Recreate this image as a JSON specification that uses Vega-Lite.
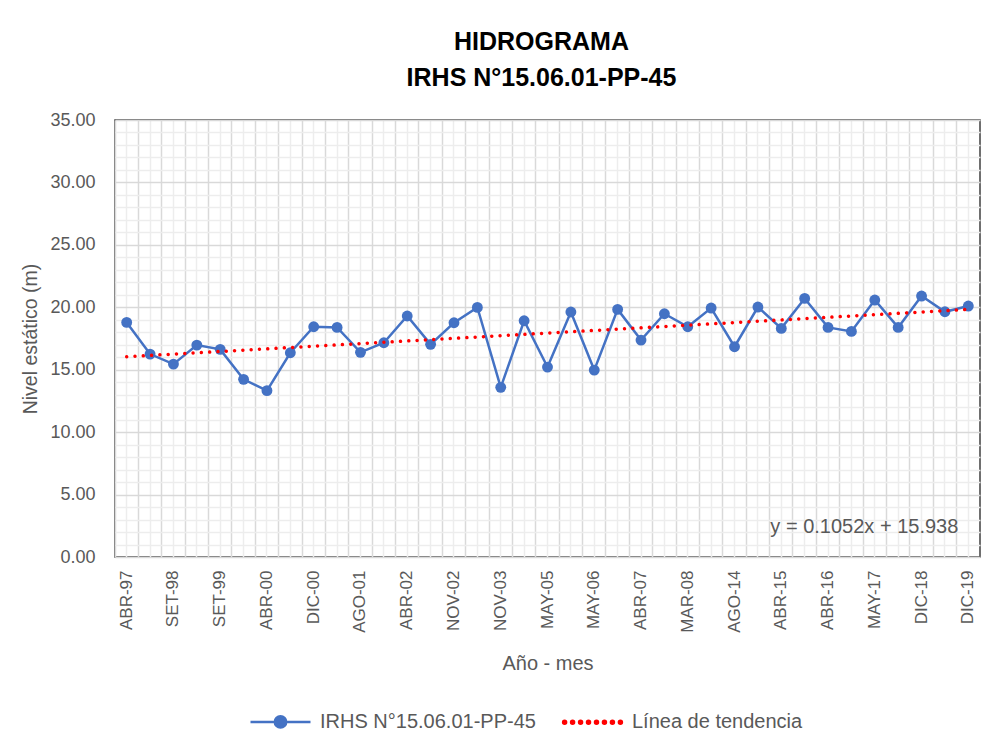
{
  "$schema": "https://vega.github.io/schema/vega-lite/v6.json",
  "width": 865,
  "height": 437,
  "autosize": "none",
  "padding": {"left": 115, "top": 120, "right": 27, "bottom": 195},
  "background": "white",
  "config": {
    "font": "Liberation Sans, Arial, sans-serif",
    "view": {"stroke": "#404040", "strokeWidth": 1.5}
  },
  "title": {
    "text": ["HIDROGRAMA", "IRHS N°15.06.01-PP-45"],
    "fontSize": 25,
    "fontWeight": "bold",
    "color": "black",
    "lineHeight": 36,
    "anchor": "middle",
    "frame": "group",
    "offset": 20,
    "dx": -6
  },
  "datasets": {
    "puntos": [
      {"mes": "ABR-97", "nivel": 18.79},
      {"mes": "DIC-97", "nivel": 16.25},
      {"mes": "SET-98", "nivel": 15.45},
      {"mes": "ENE-99", "nivel": 16.97},
      {"mes": "SET-99", "nivel": 16.63},
      {"mes": "DIC-99", "nivel": 14.23},
      {"mes": "ABR-00", "nivel": 13.32},
      {"mes": "AGO-00", "nivel": 16.36},
      {"mes": "DIC-00", "nivel": 18.44},
      {"mes": "ABR-01", "nivel": 18.39},
      {"mes": "AGO-01", "nivel": 16.39},
      {"mes": "DIC-01", "nivel": 17.16},
      {"mes": "ABR-02", "nivel": 19.30},
      {"mes": "AGO-02", "nivel": 17.03},
      {"mes": "NOV-02", "nivel": 18.76},
      {"mes": "MAY-03", "nivel": 19.99},
      {"mes": "NOV-03", "nivel": 13.59},
      {"mes": "MAY-04", "nivel": 18.92},
      {"mes": "MAY-05", "nivel": 15.21},
      {"mes": "NOV-05", "nivel": 19.62},
      {"mes": "MAY-06", "nivel": 14.97},
      {"mes": "NOV-06", "nivel": 19.83},
      {"mes": "ABR-07", "nivel": 17.37},
      {"mes": "SET-07", "nivel": 19.48},
      {"mes": "MAR-08", "nivel": 18.44},
      {"mes": "NOV-13", "nivel": 19.94},
      {"mes": "AGO-14", "nivel": 16.84},
      {"mes": "DIC-14", "nivel": 20.02},
      {"mes": "ABR-15", "nivel": 18.31},
      {"mes": "OCT-15", "nivel": 20.71},
      {"mes": "ABR-16", "nivel": 18.39},
      {"mes": "NOV-16", "nivel": 18.07},
      {"mes": "MAY-17", "nivel": 20.58},
      {"mes": "DIC-17", "nivel": 18.39},
      {"mes": "DIC-18", "nivel": 20.90},
      {"mes": "MAY-19", "nivel": 19.64},
      {"mes": "DIC-19", "nivel": 20.10}
    ],
    "tendencia": [
      {"mes": "ABR-97", "nivel": 16.04},
      {"mes": "DIC-19", "nivel": 19.83}
    ],
    "ecuacion": [
      {"texto": "y = 0.1052x + 15.938"}
    ]
  },
  "resolve": {
    "scale": {"x": "shared", "y": "shared"},
    "axis": {"x": "independent", "y": "independent"}
  },
  "layer": [
    {
      "data": {"name": "puntos"},
      "mark": {"type": "line", "strokeWidth": 2.5},
      "encoding": {
        "x": {
          "field": "mes",
          "type": "nominal",
          "sort": null,
          "scale": {"type": "band", "paddingInner": 0, "paddingOuter": 0},
          "axis": {
            "title": "Año - mes",
            "titleFontSize": 20,
            "titleFontWeight": "normal",
            "titleColor": "#595959",
            "titlePadding": 21,
            "labelAngle": -90,
            "labelFontSize": 17,
            "labelColor": "#595959",
            "labelPadding": 13,
            "labelOverlap": false,
            "labelExpr": "indexof(['ABR-97','SET-98','SET-99','ABR-00','DIC-00','AGO-01','ABR-02','NOV-02','NOV-03','MAY-05','MAY-06','ABR-07','MAR-08','AGO-14','ABR-15','ABR-16','MAY-17','DIC-18','DIC-19'], datum.value) >= 0 ? datum.label : ''",
            "ticks": false,
            "domain": false,
            "grid": true,
            "gridColor": "#EDEDED",
            "gridWidth": 1.5
          }
        },
        "y": {
          "field": "nivel",
          "type": "quantitative",
          "scale": {"domain": [0, 35], "nice": false, "zero": true},
          "axis": {
            "title": "Nivel estático (m)",
            "titleFontSize": 19.5,
            "titleFontWeight": "normal",
            "titleColor": "#595959",
            "titlePadding": 9,
            "values": [0, 5, 10, 15, 20, 25, 30, 35],
            "format": ".2f",
            "labelFontSize": 18,
            "labelColor": "#595959",
            "labelPadding": 20,
            "ticks": false,
            "domain": false,
            "grid": true,
            "gridColor": "#D9D9D9",
            "gridWidth": 1.5
          }
        },
        "color": {
          "datum": "IRHS N°15.06.01-PP-45",
          "scale": {"domain": ["IRHS N°15.06.01-PP-45", "Línea de tendencia"], "range": ["#4472C4", "#FF0000"]},
          "legend": {
            "orient": "none",
            "legendX": 134,
            "legendY": 570,
            "direction": "horizontal",
            "title": null,
            "symbolSize": 3600,
            "symbolStrokeWidth": 2.5,
            "symbolOpacity": 1,
            "labelFontSize": 20,
            "labelColor": "#595959",
            "labelLimit": 400,
            "labelOffset": 8,
            "columnPadding": 22
          }
        }
      }
    },
    {
      "data": {"name": "puntos"},
      "mark": {"type": "point", "filled": true, "size": 118, "opacity": 1, "shape": "circle"},
      "encoding": {
        "x": {"field": "mes", "type": "nominal", "sort": null, "axis": null},
        "y": {"field": "nivel", "type": "quantitative", "axis": null},
        "color": {"datum": "IRHS N°15.06.01-PP-45"}
      }
    },
    {
      "data": {"name": "tendencia"},
      "mark": {"type": "line", "strokeWidth": 3.5, "strokeDash": [0.01, 8.3], "strokeCap": "round"},
      "encoding": {
        "x": {
          "field": "mes",
          "type": "nominal",
          "sort": null,
          "axis": {
            "orient": "top",
            "bandPosition": 0,
            "title": null,
            "labels": false,
            "ticks": false,
            "domain": false,
            "grid": true,
            "gridColor": "#D9D9D9",
            "gridWidth": 1.5
          }
        },
        "y": {
          "field": "nivel",
          "type": "quantitative",
          "axis": {
            "orient": "right",
            "title": null,
            "values": [1, 2, 3, 4, 6, 7, 8, 9, 11, 12, 13, 14, 16, 17, 18, 19, 21, 22, 23, 24, 26, 27, 28, 29, 31, 32, 33, 34],
            "labels": false,
            "ticks": false,
            "domain": false,
            "grid": true,
            "gridColor": "#EDEDED",
            "gridWidth": 1.5
          }
        },
        "color": {"datum": "Línea de tendencia"}
      }
    },
    {
      "data": {"name": "tendencia"},
      "mark": {"type": "point", "filled": true, "opacity": 0},
      "encoding": {
        "x": {"field": "mes", "type": "nominal", "sort": null, "axis": null},
        "y": {"field": "nivel", "type": "quantitative", "axis": null},
        "color": {"datum": "Línea de tendencia"},
        "shape": {
          "datum": "Línea de tendencia",
          "scale": {
            "domain": ["IRHS N°15.06.01-PP-45", "Línea de tendencia"],
            "range": [
              "M-1,0H1M0.19,0A0.19,0.19,0,1,1,-0.19,0A0.19,0.19,0,1,1,0.19,0Z",
              "M-0.88,0A0.05,0.05,0,1,1,-0.98,0A0.05,0.05,0,1,1,-0.88,0ZM-0.614,0A0.05,0.05,0,1,1,-0.714,0A0.05,0.05,0,1,1,-0.614,0ZM-0.348,0A0.05,0.05,0,1,1,-0.448,0A0.05,0.05,0,1,1,-0.348,0ZM-0.083,0A0.05,0.05,0,1,1,-0.183,0A0.05,0.05,0,1,1,-0.083,0ZM0.183,0A0.05,0.05,0,1,1,0.083,0A0.05,0.05,0,1,1,0.183,0ZM0.448,0A0.05,0.05,0,1,1,0.348,0A0.05,0.05,0,1,1,0.448,0ZM0.714,0A0.05,0.05,0,1,1,0.614,0A0.05,0.05,0,1,1,0.714,0ZM0.98,0A0.05,0.05,0,1,1,0.88,0A0.05,0.05,0,1,1,0.98,0Z"
            ]
          },
          "legend": {
            "orient": "none",
            "legendX": 134,
            "legendY": 570,
            "direction": "horizontal",
            "title": null,
            "symbolSize": 3600,
            "symbolStrokeWidth": 2.5,
            "symbolOpacity": 1,
            "labelFontSize": 20,
            "labelColor": "#595959",
            "labelLimit": 400,
            "labelOffset": 8,
            "columnPadding": 22
          }
        }
      }
    },
    {
      "data": {"name": "ecuacion"},
      "mark": {"type": "text", "align": "right", "baseline": "middle", "dx": -10, "fontSize": 20, "color": "#595959"},
      "encoding": {
        "x": {"datum": "DIC-19", "type": "nominal", "axis": null},
        "y": {"datum": 2.4, "type": "quantitative", "axis": null},
        "text": {"field": "texto"}
      }
    }
  ]
}
